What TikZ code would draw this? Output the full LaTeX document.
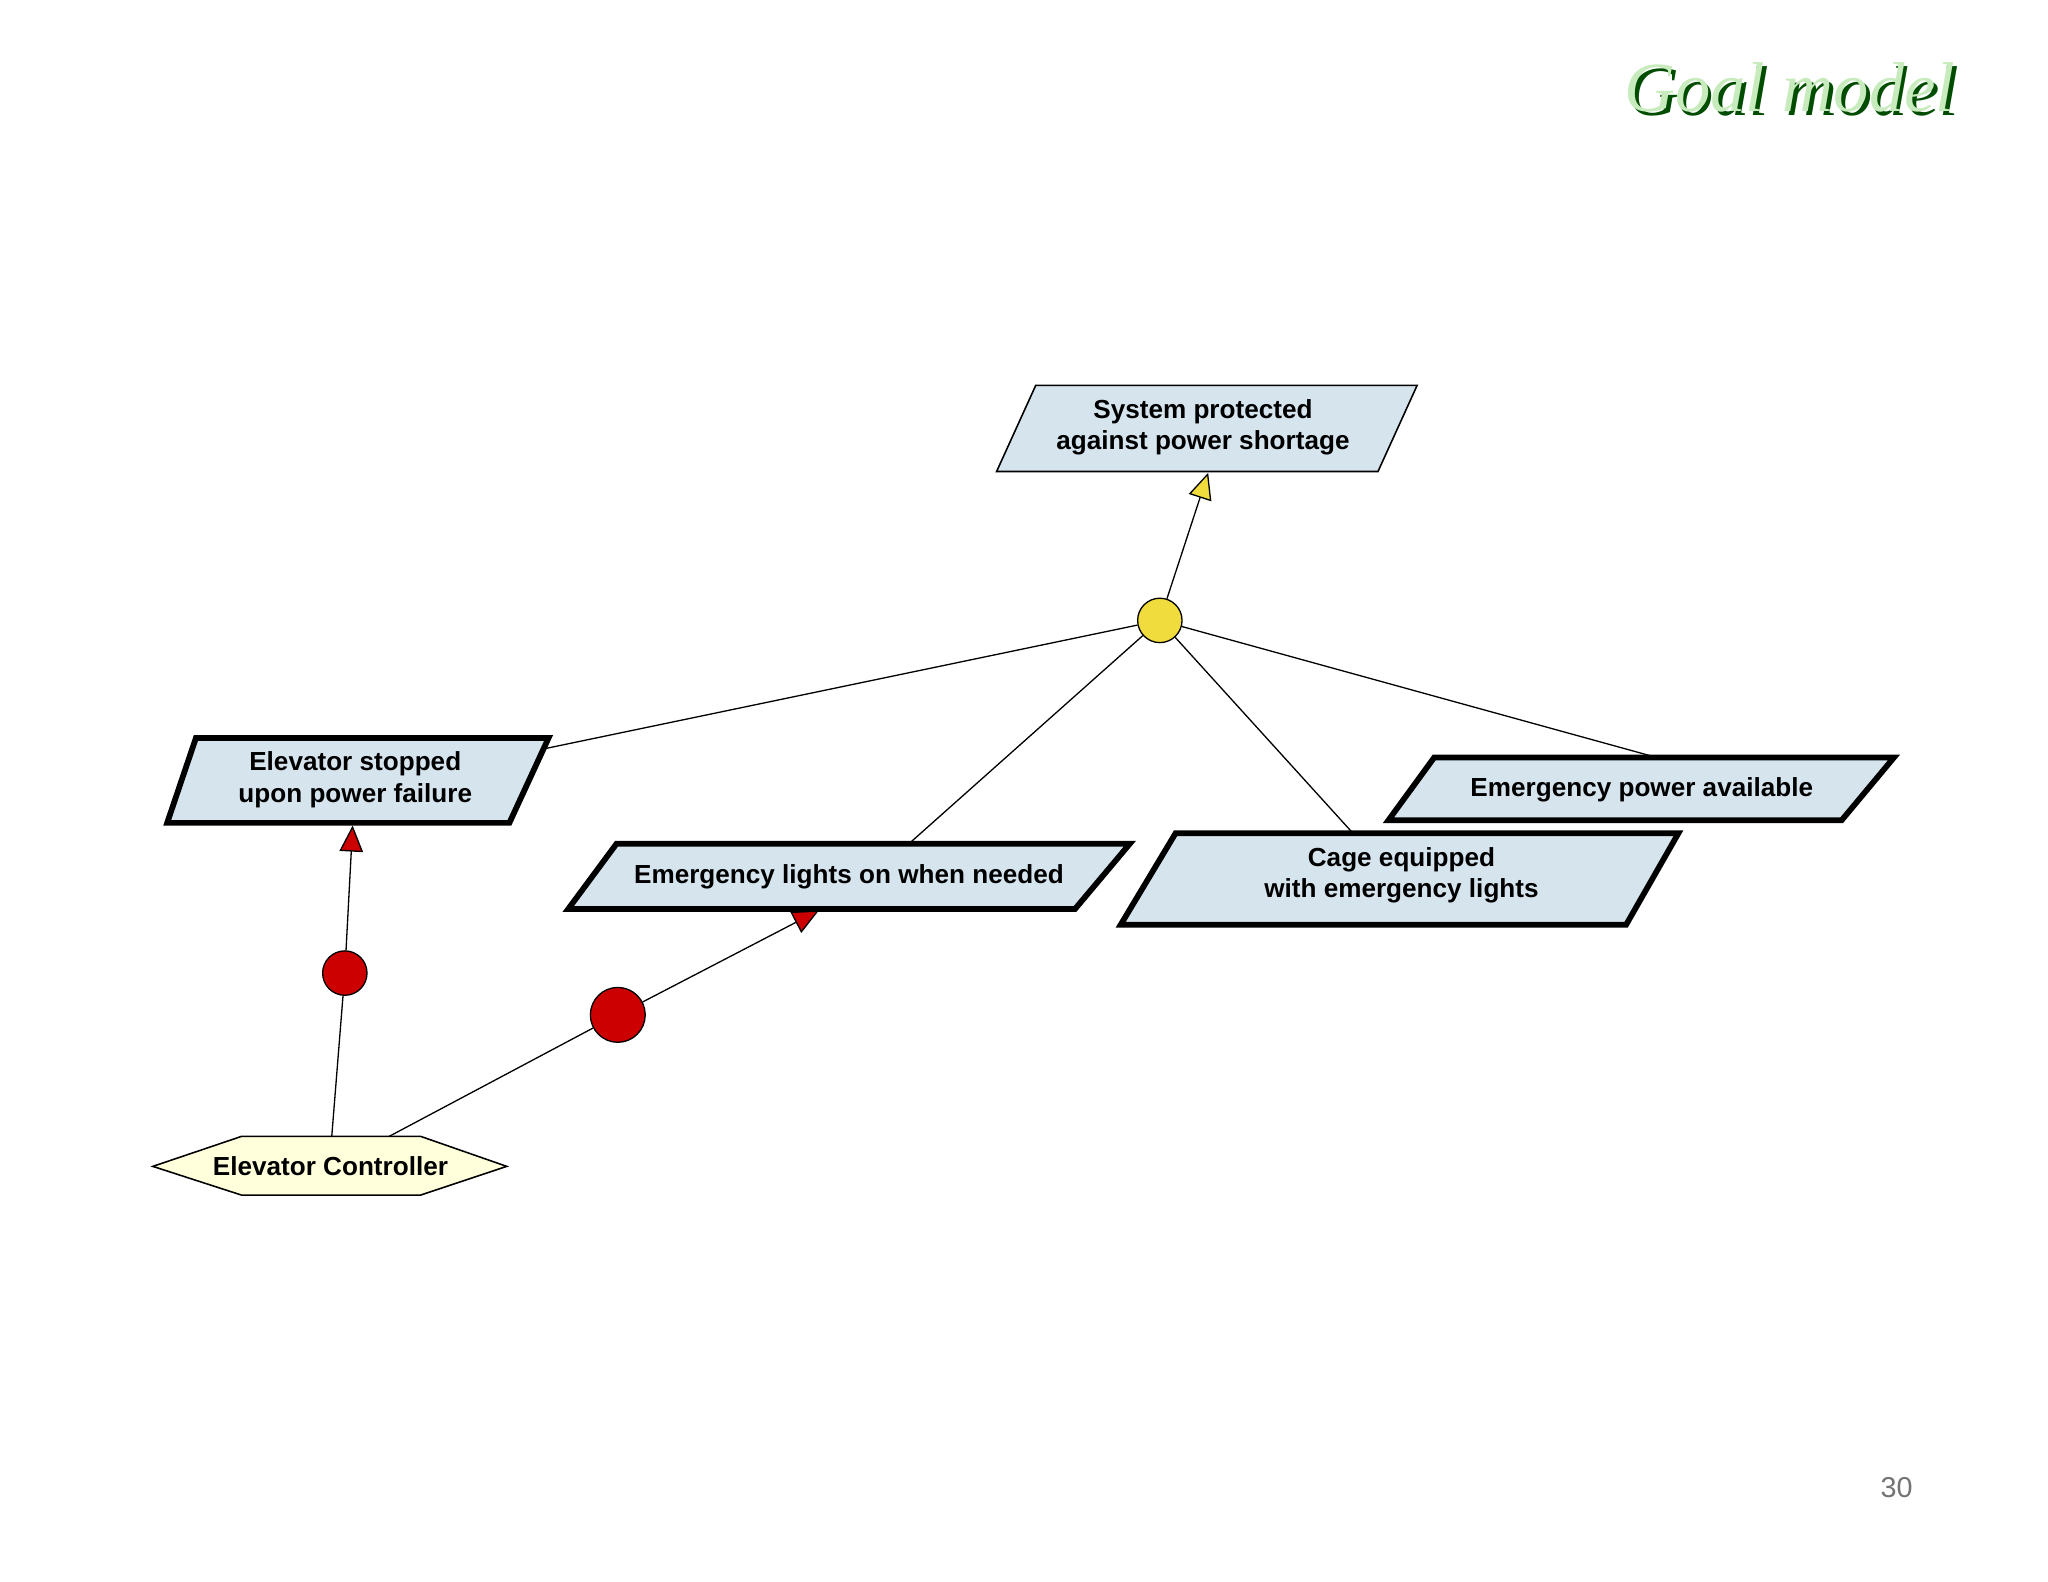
\documentclass[tikz,border=0pt]{standalone}
\usepackage{fontspec}
\setmainfont{Liberation Sans}
\newfontfamily\titlefont{Liberation Serif}
\usetikzlibrary{arrows.meta}
\definecolor{goalfill}{RGB}{214,228,238}
\definecolor{agentfill}{RGB}{255,255,220}
\definecolor{refred}{RGB}{204,0,0}
\definecolor{refyel}{RGB}{240,220,60}
\definecolor{titlegreen}{RGB}{200,235,190}
\tikzset{
  goalthin/.style={draw=black, line width=0.6pt, fill=goalfill},
  goalthick/.style={draw=black, line width=2.2pt, fill=goalfill},
  lbl/.style={font=\fontsize{10}{12}\selectfont\bfseries, align=center, inner sep=0pt},
  link/.style={draw=black, line width=0.5pt},
  yarrow/.style={link, -{Triangle[width=9pt,length=10pt,fill=refyel]}},
  rarrow/.style={link, -{Triangle[width=9pt,length=10pt,fill=refred]}},
}
\begin{document}
\begin{tikzpicture}[x=0.5pt,y=-0.5pt]
\useasboundingbox (0,0) rectangle (1568,1211);
% title
\node[anchor=east, font=\titlefont\itshape\fontsize{27}{30}\selectfont, text=black!70!green] at (1507,70) {Goal model};
\node[anchor=east, font=\titlefont\itshape\fontsize{27}{30}\selectfont, text=titlegreen] at (1504,67) (title) {Goal model};
% goals
\draw[goalthin] (793,295) -- (1085,295) -- (1055,361) -- (763,361) -- cycle;
\node[lbl] (top) at (921,327) {System protected\\against power shortage};
\coordinate (topb) at (925,362);
\draw[goalthick] (150,565) -- (420,565) -- (390,630) -- (128,630) -- cycle;
\node[lbl] (stop) at (272,597) {Elevator stopped\\upon power failure};
\coordinate (stopt) at (418,573);
\coordinate (stopb) at (270,632);
\draw[goalthick] (472,646) -- (865,646) -- (823,696) -- (435,696) -- cycle;
\node[lbl] (lights) at (650,671) {Emergency lights on when needed};
\coordinate (lightst) at (697,645);
\coordinate (lightsb) at (627,697);
\draw[goalthick] (900,638) -- (1285,638) -- (1245,708) -- (858,708) -- cycle;
\node[lbl] (cage) at (1073,670) {Cage equipped\\with emergency lights};
\coordinate (caget) at (1035,637);
\draw[goalthick] (1098,580) -- (1450,580) -- (1410,628) -- (1063,628) -- cycle;
\node[lbl] (power) at (1257,605) {Emergency power available};
\coordinate (powert) at (1265,579);
% agent
\draw[draw=black, line width=0.6pt, fill=agentfill] (117,893) -- (185,870) -- (322,870) -- (388,893) -- (322,915) -- (185,915) -- cycle;
\node[lbl] (agent) at (253,893) {Elevator Controller};
\coordinate (agentA) at (254,870);
\coordinate (agentB) at (298,870);
% refinement
\node[circle, draw=black, line width=0.5pt, fill=refyel, minimum size=17pt, inner sep=0pt] (and) at (888,475) {};
\draw[yarrow] (and) -- (topb);
\draw[link] (and) -- (stopt);
\draw[link] (and) -- (lightst);
\draw[link] (and) -- (caget);
\draw[link] (and) -- (powert);
% responsibility
\node[circle, draw=black, line width=0.5pt, fill=refred, minimum size=17pt, inner sep=0pt] (r1) at (264,745) {};
\node[circle, draw=black, line width=0.5pt, fill=refred, minimum size=21pt, inner sep=0pt] (r2) at (473,777) {};
\draw[link] (agentA) -- (r1);
\draw[rarrow] (r1) -- (stopb);
\draw[link] (agentB) -- (r2);
\draw[rarrow] (r2) -- (lightsb);
\node[font=\fontsize{11}{13}\selectfont, text=black!55] (page) at (1452,1139) {30};
\end{tikzpicture}
\end{document}
